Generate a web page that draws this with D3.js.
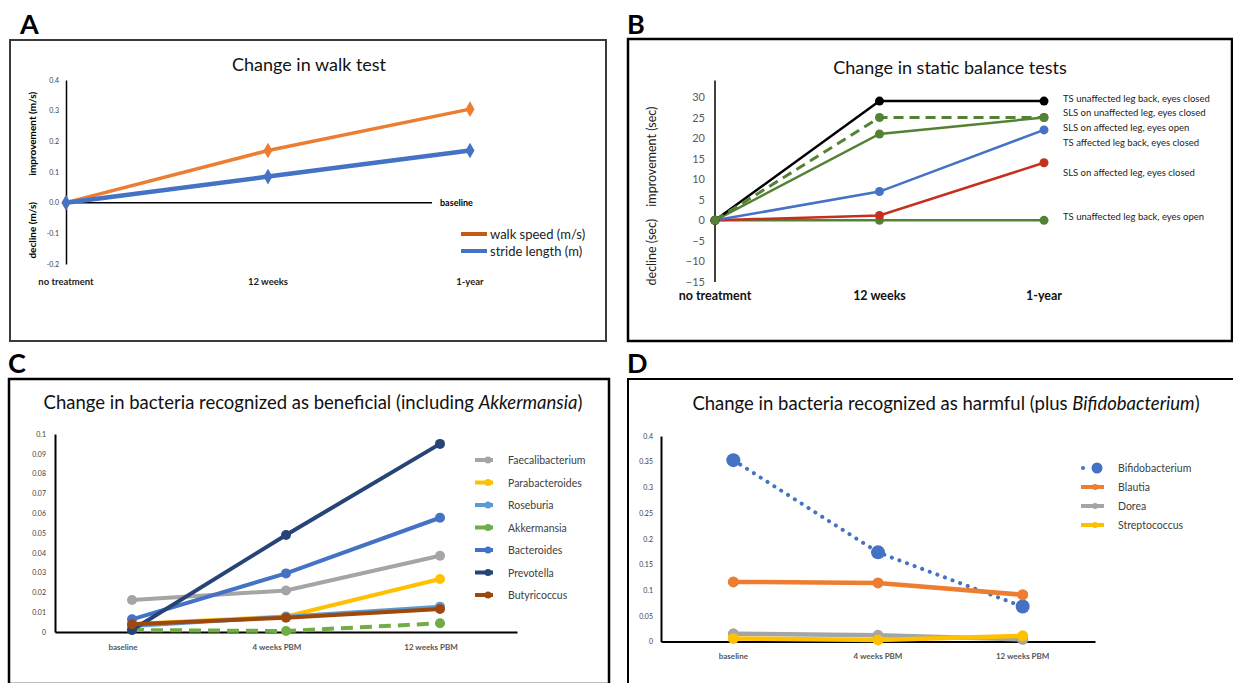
<!DOCTYPE html>
<html>
<head>
<meta charset="utf-8">
<script src="https://cdn.jsdelivr.net/npm/d3@7"></script>
<style>
  body { margin: 0; background: #fff; }
  text { font-family: Lato, "Open Sans", sans-serif; }
</style>
</head>
<body>
<svg id="chart" width="1233" height="683"></svg>
<script>
// ---- dades ----
const walkCats = ["no treatment", "12 weeks", "1-year"];
const walkSpeed = [0, 0.17, 0.305];
const strideLength = [0, 0.085, 0.17];
const walkTicks = [0.4, 0.3, 0.2, 0.1, 0, -0.1, -0.2];

const balanceNames = [
  "TS unaffected leg back, eyes closed",
  "SLS on unaffected leg, eyes closed",
  "SLS on affected leg, eyes open",
  "TS affected leg back, eyes closed",
  "SLS on affected leg, eyes closed",
  "TS unaffected leg back, eyes open"
];
const balanceValues = [
  [0, 29, 29],
  [0, 25, 25],
  [0, 7, 22],
  [0, 21, 25],
  [0, 1.2, 14],
  [0, 0, 0]
];
// nivell (en segons) on s'escriu cada etiqueta de la dreta
const balanceLabelLevel = [29.6, 26.1, 22.5, 18.8, 11.5, 0.7];
const balanceTicks = [30, 25, 20, 15, 10, 5, 0, -5, -10, -15];

const bacteriaCats = ["baseline", "4 weeks PBM", "12 weeks PBM"];
const beneficialNames = ["Faecalibacterium", "Parabacteroides", "Roseburia", "Akkermansia", "Bacteroides", "Prevotella", "Butyricoccus"];
const beneficialValues = [
  [0.0162, 0.021, 0.0385],
  [0.004, 0.0078, 0.0268],
  [0.003, 0.0077, 0.0128],
  [0.001, 0.0005, 0.0044],
  [0.0064, 0.0296, 0.0577],
  [0.001, 0.049, 0.095],
  [0.0039, 0.0072, 0.0116]
];
const beneficialTicks = [0, 0.01, 0.02, 0.03, 0.04, 0.05, 0.06, 0.07, 0.08, 0.09, 0.1];

const harmfulNames = ["Bifidobacterium", "Blautia", "Dorea", "Streptococcus"];
const harmfulValues = [
  [0.353, 0.1735, 0.068],
  [0.116, 0.114, 0.091],
  [0.015, 0.012, 0.004],
  [0.006, 0.003, 0.011]
];
const harmfulTicks = [0, 0.05, 0.1, 0.15, 0.2, 0.25, 0.3, 0.35, 0.4];

const svg = d3.select("#chart");

// marcs i lletres dels panells
function frame(x0, y0, x1, y1, letter, lx, ly, stroke, sw) {
  svg.append("rect").attr("x", x0).attr("y", y0)
     .attr("width", x1 - x0).attr("height", y1 - y0)
     .attr("fill", "none").attr("stroke", stroke).attr("stroke-width", sw);
  svg.append("text").attr("x", lx).attr("y", ly).text(letter)
     .style("font-size", "27px").style("font-weight", "bold").style("fill", "#000");
}
frame(10, 40, 606, 341, "A", 20, 34, "#3a3a3a", 2);
frame(628, 39, 1232, 341, "B", 627, 34, "#000", 2.5);
frame(9, 379, 609, 684, "C", 8, 373, "#000", 2.5);
frame(628, 379, 1236, 684, "D", 627, 373, "#000", 2);

function title(x, y, parts, size) {
  const t = svg.append("text").attr("x", x).attr("y", y)
     .attr("text-anchor", "middle").style("font-size", size + "px").style("fill", "#111");
  parts.forEach(p => t.append("tspan").text(p[0]).style("font-style", p[1] ? "italic" : "normal"));
}

// ================= A =================
const xA = d3.scalePoint().domain(walkCats).range([66, 470]);
const yA = d3.scaleLinear().domain([-0.2, 0.4]).range([264, 80]);
title(309, 71, [["Change in walk test"]], 18);

svg.append("g").attr("transform", "translate(66,0)")
   .call(d3.axisLeft(yA).tickValues(walkTicks).tickSize(0).tickPadding(7).tickFormat(d => d.toFixed(1)))
   .call(g => g.select(".domain").attr("stroke", "#000").attr("stroke-width", 1.5))
   .selectAll("text").style("font-size", "7px").style("fill", "#404040");

svg.append("line").attr("x1", xA(walkCats[0])).attr("x2", 432)
   .attr("y1", yA(0)).attr("y2", yA(0)).attr("stroke", "#000").attr("stroke-width", 1.5);
svg.append("text").attr("x", 440).attr("y", yA(0) + 3).text("baseline")
   .style("font-size", "9px").style("font-weight", "bold");

svg.append("g").selectAll("text").data(walkCats).enter().append("text")
   .attr("x", d => xA(d)).attr("y", 285).attr("text-anchor", "middle").text(d => d)
   .style("font-size", "9.5px").style("font-weight", "bold").style("fill", "#222");

svg.append("text").attr("transform", `translate(36,${(yA(0.4) + yA(0.05)) / 2}) rotate(-90)`)
   .attr("text-anchor", "middle").text("improvement (m/s)")
   .style("font-size", "10px").style("font-weight", "bold");
svg.append("text").attr("transform", `translate(36,${(yA(0) + yA(-0.2)) / 2 - 3}) rotate(-90)`)
   .attr("text-anchor", "middle").text("decline (m/s)")
   .style("font-size", "10px").style("font-weight", "bold");

const walkSeries = [
  { name: "walk speed (m/s)", values: walkSpeed, color: "#ED7D31", legend: "#C55A11", w: 3.5 },
  { name: "stride length (m)", values: strideLength, color: "#4472C4", legend: "#4472C4", w: 4.5 }
];
const lineA = d3.line().x((d, i) => xA(walkCats[i])).y(d => yA(d));
walkSeries.forEach((s, k) => {
  svg.append("path").datum(s.values).attr("d", lineA)
     .attr("fill", "none").attr("stroke", s.color).attr("stroke-width", s.w);
  svg.append("g").selectAll("path").data(s.values).enter().append("path")
     .attr("d", d3.symbol(d3.symbolDiamond, 70))
     .attr("transform", (d, i) => `translate(${xA(walkCats[i])},${yA(d)})`)
     .attr("fill", s.color);
  const ly = 234 + k * 17;
  svg.append("line").attr("x1", 461).attr("x2", 487).attr("y1", ly).attr("y2", ly)
     .attr("stroke", s.legend).attr("stroke-width", 4);
  svg.append("text").attr("x", 490).attr("y", ly + 4.5).text(s.name)
     .style("font-size", "13px").style("fill", "#222");
});

// ================= B =================
const xB = d3.scalePoint().domain(walkCats).range([715, 1044]);
const yB = d3.scaleLinear().domain([-15, 30]).range([282, 97]);
title(950, 74, [["Change in static balance tests"]], 18);

svg.append("g").attr("transform", "translate(715,0)")
   .call(d3.axisLeft(yB).tickValues(balanceTicks).tickSize(0).tickPadding(10))
   .call(g => g.select(".domain").remove())
   .selectAll("text").style("font-size", "11px").style("fill", "#595959");
svg.append("line").attr("x1", 715).attr("x2", 715).attr("y1", yB(34)).attr("y2", yB(-15))
   .attr("stroke", "#000").attr("stroke-width", 1.5);

svg.append("g").selectAll("text").data(walkCats).enter().append("text")
   .attr("x", d => xB(d)).attr("y", 300).attr("text-anchor", "middle").text(d => d)
   .style("font-size", "12.5px").style("font-weight", "bold").style("fill", "#111");

svg.append("text").attr("transform", `translate(656,${(yB(30) + yB(1)) / 2}) rotate(-90)`)
   .attr("text-anchor", "middle").text("improvement (sec)")
   .style("font-size", "12.5px").style("fill", "#222");
svg.append("text").attr("transform", `translate(656,${(yB(-1) + yB(-15)) / 2 - 1}) rotate(-90)`)
   .attr("text-anchor", "middle").text("decline (sec)")
   .style("font-size", "12.5px").style("fill", "#222");

const balanceColors = ["#000000", "#548235", "#4472C4", "#548235", "#C5301C", "#548235"];
const balanceDash = [null, "10,6", null, null, null, null];
const balanceOrder = [5, 4, 2, 3, 0, 1];
const lineB = d3.line().x((d, i) => xB(walkCats[i])).y(d => yB(d));
balanceOrder.forEach(k => {
  svg.append("path").datum(balanceValues[k]).attr("d", lineB)
     .attr("fill", "none").attr("stroke", balanceColors[k])
     .attr("stroke-width", balanceDash[k] ? 3 : 2.5)
     .attr("stroke-dasharray", balanceDash[k]);
  svg.append("g").selectAll("circle").data(balanceValues[k]).enter().append("circle")
     .attr("cx", (d, i) => xB(walkCats[i])).attr("cy", d => yB(d)).attr("r", 4.5)
     .attr("fill", balanceColors[k]);
});
svg.append("g").selectAll("text").data(balanceNames).enter().append("text")
   .attr("x", 1063).attr("y", (d, i) => yB(balanceLabelLevel[i]) + 3).text(d => d)
   .style("font-size", "9.5px").style("fill", "#222");

// ================= C =================
const xC = d3.scaleBand().domain(bacteriaCats).range([55, 517]);
const cx = c => xC(c) + xC.bandwidth() / 2;
const yC = d3.scaleLinear().domain([0, 0.1]).range([632, 434]);
title(313, 409, [["Change in bacteria recognized as beneficial (including "], ["Akkermansia", true], [")"]], 18.5);

svg.append("g").attr("transform", "translate(55,0)")
   .call(d3.axisLeft(yC).tickValues(beneficialTicks).tickSize(0).tickPadding(9).tickFormat(d => String(d)))
   .call(g => g.select(".domain").attr("stroke", "#000").attr("stroke-width", 2))
   .selectAll("text").style("font-size", "7px").style("fill", "#404040");
svg.append("g").attr("transform", "translate(0,632)")
   .call(d3.axisBottom(xC).tickSize(0).tickPadding(12))
   .call(g => g.select(".domain").attr("stroke", "#000").attr("stroke-width", 2))
   .selectAll("text").attr("dx", -9).style("font-size", "8px").style("font-weight", "bold").style("fill", "#555");

const beneficialColors = ["#A5A5A5", "#FFC000", "#5B9BD5", "#70AD47", "#4472C4", "#264478", "#9E480E"];
const lineC = d3.line().x((d, i) => cx(bacteriaCats[i])).y(d => yC(d));
beneficialValues.forEach((vals, k) => {
  svg.append("path").datum(vals).attr("d", lineC)
     .attr("fill", "none").attr("stroke", beneficialColors[k]).attr("stroke-width", 4)
     .attr("stroke-dasharray", beneficialNames[k] === "Akkermansia" ? "12,7" : null);
  svg.append("g").selectAll("circle").data(vals).enter().append("circle")
     .attr("cx", (d, i) => cx(bacteriaCats[i])).attr("cy", d => yC(d)).attr("r", 5)
     .attr("fill", beneficialColors[k]);
});
const legC = svg.append("g").selectAll("g").data(beneficialNames).enter().append("g")
   .attr("transform", (d, i) => `translate(0,${460 + i * 22.5})`);
legC.append("line").attr("x1", 475).attr("x2", 493).attr("stroke", (d, i) => beneficialColors[i]).attr("stroke-width", 4);
legC.append("circle").attr("cx", 488).attr("r", 3.5).attr("fill", (d, i) => beneficialColors[i]);
legC.append("text").attr("x", 508).attr("y", 4).text(d => d)
   .style("font-size", "10.5px").style("fill", "#404040");

// ================= D =================
const xD = d3.scaleBand().domain(bacteriaCats).range([661, 1095]);
const dx = c => xD(c) + xD.bandwidth() / 2;
const yD = d3.scaleLinear().domain([0, 0.4]).range([641.5, 436]);
title(946, 410, [["Change in bacteria recognized as harmful (plus "], ["Bifidobacterium", true], [")"]], 18.5);

svg.append("g").attr("transform", "translate(661,0)")
   .call(d3.axisLeft(yD).tickValues(harmfulTicks).tickSize(0).tickPadding(8).tickFormat(d => String(d)))
   .call(g => g.select(".domain").attr("stroke", "#000").attr("stroke-width", 2))
   .selectAll("text").style("font-size", "7px").style("fill", "#404040");
svg.append("g").attr("transform", "translate(0,641.5)")
   .call(d3.axisBottom(xD).tickSize(0).tickPadding(12))
   .call(g => g.select(".domain").attr("stroke", "#000").attr("stroke-width", 2))
   .selectAll("text").style("font-size", "8px").style("font-weight", "bold").style("fill", "#555");

const harmfulColors = ["#4472C4", "#ED7D31", "#A5A5A5", "#FFC000"];
const lineD = d3.line().x((d, i) => dx(bacteriaCats[i])).y(d => yD(d));
harmfulValues.forEach((vals, k) => {
  const dotted = harmfulNames[k] === "Bifidobacterium";
  svg.append("path").datum(vals).attr("d", lineD)
     .attr("fill", "none").attr("stroke", harmfulColors[k])
     .attr("stroke-width", dotted ? 4 : 4.5)
     .attr("stroke-linecap", dotted ? "round" : "butt")
     .attr("stroke-dasharray", dotted ? "0.1,8" : null);
  svg.append("g").selectAll("circle").data(vals).enter().append("circle")
     .attr("cx", (d, i) => dx(bacteriaCats[i])).attr("cy", d => yD(d)).attr("r", dotted ? 7 : 5.5)
     .attr("fill", harmfulColors[k]);
});
const legD = svg.append("g").selectAll("g").data(harmfulNames).enter().append("g")
   .attr("transform", (d, i) => `translate(0,${468 + i * 19})`);
legD.filter(d => d !== "Bifidobacterium").append("line").attr("x1", 1081).attr("x2", 1104)
   .attr("stroke", (d) => harmfulColors[harmfulNames.indexOf(d)]).attr("stroke-width", 4);
legD.filter(d => d !== "Bifidobacterium").append("circle").attr("cx", 1095).attr("r", 3)
   .attr("fill", (d) => harmfulColors[harmfulNames.indexOf(d)]);
legD.filter(d => d === "Bifidobacterium").append("circle").attr("cx", 1083).attr("r", 2).attr("fill", harmfulColors[0]);
legD.filter(d => d === "Bifidobacterium").append("circle").attr("cx", 1097).attr("r", 5.5).attr("fill", harmfulColors[0]);
legD.append("text").attr("x", 1118).attr("y", 4).text(d => d)
   .style("font-size", "10.5px").style("fill", "#404040");
</script>
</body>
</html>
